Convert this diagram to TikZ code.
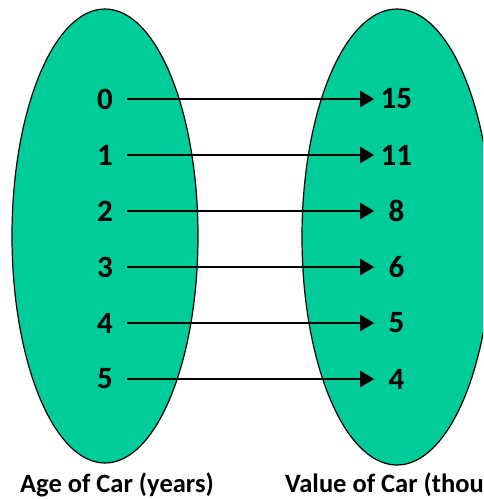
\documentclass[tikz,border=0pt]{standalone}
\usepackage{fontspec}
\setmainfont{Carlito}
\usetikzlibrary{arrows.meta,positioning,shapes.geometric}
\definecolor{setgreen}{HTML}{00CC99}

\begin{document}
\begin{tikzpicture}[x=1pt, y=-1pt,
    every node/.style={font=\bfseries, align=center},
    setoval/.style={draw=black, line width=1.2pt, fill=setgreen, ellipse, inner sep=0pt},
    num/.style={font=\bfseries\fontsize{31}{33}\selectfont, inner sep=0pt,
                minimum width=44pt, minimum height=24pt},
    maps/.style={-{Triangle[length=14pt, width=16pt]}, line width=2pt, black},
    caption/.style={font=\bfseries\fontsize{26.5}{30}\selectfont, inner sep=0pt, anchor=base}]
  \clip (0,0) rectangle (483,499);
  % the two sets
  \node[setoval, minimum width=186pt, minimum height=454pt] (age) at (105,236) {};
  \node[setoval, minimum width=190pt, minimum height=456pt] (value) at (397,237) {};
  % domain
  \node[num] (a0) at (105,99) {0};
  \node[num, below=31.6pt of a0] (a1) {1};
  \node[num, below=31.6pt of a1] (a2) {2};
  \node[num, below=31.6pt of a2] (a3) {3};
  \node[num, below=31.6pt of a3] (a4) {4};
  \node[num, below=31.6pt of a4] (a5) {5};
  % range
  \node[num, right=247pt of a0] (v0) {15};
  \node[num, right=247pt of a1] (v1) {11};
  \node[num, right=247pt of a2] (v2) {8};
  \node[num, right=247pt of a3] (v3) {6};
  \node[num, right=247pt of a4] (v4) {5};
  \node[num, right=247pt of a5] (v5) {4};
  \draw[maps] (a0) -- (v0);
  \draw[maps] (a1) -- (v1);
  \draw[maps] (a2) -- (v2);
  \draw[maps] (a3) -- (v3);
  \draw[maps] (a4) -- (v4);
  \draw[maps] (a5) -- (v5);
  % labels
  \node[caption] (agelbl) at (117,492) {Age of Car (years)};
  \node[caption, anchor=base west] (valuelbl) at (285,492) {Value of Car (thousands)};
\end{tikzpicture}
\end{document}
